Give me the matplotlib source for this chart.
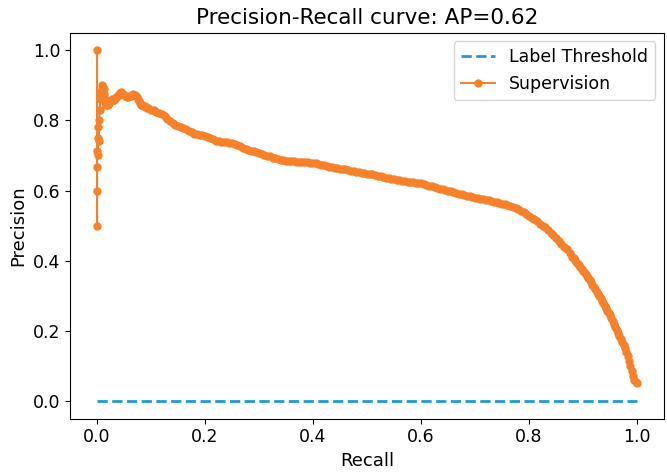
import matplotlib
matplotlib.use("Agg")
import matplotlib.pyplot as plt

# Label threshold baseline
threshold_recall = [0.0, 1.0]
threshold_precision = [0.0, 0.0]

# Supervision precision-recall curve
recall = [
    0.0, 0.0, 0.0, 0.0, 0.0005, 0.001, 0.0015, 0.002, 0.003, 0.004,
    0.005, 0.006, 0.007, 0.008, 0.009, 0.010, 0.011, 0.012, 0.013, 0.014,
    0.015, 0.016, 0.018, 0.020, 0.022, 0.024, 0.026, 0.028, 0.030, 0.032,
    0.034, 0.036, 0.038, 0.040, 0.042, 0.044, 0.046, 0.048, 0.050, 0.052,
    0.054, 0.056, 0.058, 0.060, 0.062, 0.064, 0.066, 0.068, 0.070, 0.072,
    0.074, 0.076, 0.078, 0.080, 0.082, 0.084, 0.086, 0.088, 0.090, 0.092,
    0.095,
    0.100, 0.105, 0.110, 0.115, 0.120, 0.125, 0.130, 0.135, 0.140, 0.145,
    0.150, 0.155, 0.160, 0.165, 0.170, 0.175, 0.180, 0.185, 0.190, 0.195,
    0.200, 0.205, 0.210, 0.215, 0.220, 0.225, 0.230, 0.235, 0.240, 0.245,
    0.250, 0.255, 0.260, 0.265, 0.270, 0.275, 0.280, 0.285, 0.290, 0.295,
    0.300, 0.305, 0.310, 0.315, 0.320, 0.325, 0.330, 0.335, 0.340, 0.345,
    0.350, 0.355, 0.360, 0.365, 0.370, 0.375, 0.380, 0.385, 0.390, 0.395,
    0.400, 0.405, 0.410, 0.415, 0.420, 0.425, 0.430, 0.435, 0.440, 0.445,
    0.450, 0.455, 0.460, 0.465, 0.470, 0.475, 0.480, 0.485, 0.490, 0.495,
    0.500, 0.505, 0.510, 0.515, 0.520, 0.525, 0.530, 0.535, 0.540, 0.545,
    0.550, 0.555, 0.560, 0.565, 0.570, 0.575, 0.580, 0.585, 0.590, 0.595,
    0.600, 0.605, 0.610, 0.615, 0.620, 0.625, 0.630, 0.635, 0.640, 0.645,
    0.650, 0.655, 0.660, 0.665, 0.670, 0.675, 0.680, 0.685, 0.690, 0.695,
    0.700, 0.705, 0.710, 0.715, 0.720, 0.725, 0.730, 0.735, 0.740, 0.745,
    0.750, 0.755, 0.760, 0.765, 0.770, 0.775, 0.780, 0.785, 0.790, 0.795,
    0.800, 0.805, 0.810, 0.815, 0.820, 0.825, 0.830, 0.835, 0.840, 0.845,
    0.850, 0.855, 0.860, 0.865, 0.870, 0.875,
    0.8800, 0.8825, 0.8850, 0.8875, 0.8900, 0.8925, 0.8950, 0.8975,
    0.9000, 0.9025, 0.9050, 0.9075, 0.9100, 0.9125, 0.9150, 0.9175,
    0.9200, 0.9225, 0.9250, 0.9275, 0.9300, 0.9325, 0.9350, 0.9375,
    0.9400, 0.9425, 0.9450, 0.9475, 0.9500, 0.9525, 0.9550, 0.9575,
    0.9600, 0.9625, 0.9650, 0.9675, 0.9700, 0.9725, 0.9750, 0.9775,
    0.9800, 0.9825, 0.9850, 0.9875, 0.9900, 0.9925, 0.9950, 0.9975,
    1.0000,
]
precision = [
    1.0, 0.5, 0.6, 0.667, 0.714, 0.75, 0.70, 0.78, 0.74, 0.80,
    0.83, 0.86, 0.87, 0.88, 0.89, 0.90, 0.895, 0.89, 0.875, 0.86,
    0.85, 0.845, 0.85, 0.845, 0.85, 0.855, 0.855, 0.86, 0.858, 0.858,
    0.862, 0.866, 0.870, 0.874, 0.878, 0.880, 0.879, 0.876, 0.872, 0.870,
    0.868, 0.866, 0.866, 0.868, 0.870, 0.873, 0.874, 0.873, 0.872, 0.869,
    0.866, 0.860, 0.855, 0.850, 0.845, 0.843, 0.842, 0.840, 0.838, 0.836,
    0.834,
    0.830, 0.828, 0.825, 0.822, 0.818, 0.812, 0.805, 0.798, 0.792, 0.788,
    0.785, 0.782, 0.778, 0.774, 0.770, 0.766, 0.762, 0.760, 0.758, 0.757,
    0.755, 0.753, 0.750, 0.746, 0.742, 0.740, 0.738, 0.738, 0.737, 0.736,
    0.735, 0.733, 0.730, 0.726, 0.722, 0.719, 0.716, 0.714, 0.712, 0.709,
    0.706, 0.703, 0.700, 0.698, 0.697, 0.694, 0.692, 0.690, 0.688, 0.686,
    0.685, 0.684, 0.683, 0.683, 0.682, 0.681, 0.680, 0.680, 0.680, 0.679,
    0.678, 0.677, 0.675, 0.673, 0.672, 0.670, 0.668, 0.666, 0.664, 0.663,
    0.662, 0.661, 0.660, 0.658, 0.657, 0.655, 0.654, 0.652, 0.651, 0.649,
    0.648, 0.647, 0.646, 0.644, 0.642, 0.640, 0.638, 0.637, 0.636, 0.634,
    0.633, 0.631, 0.630, 0.628, 0.626, 0.625, 0.624, 0.623, 0.622, 0.621,
    0.620, 0.619, 0.617, 0.614, 0.612, 0.610, 0.608, 0.605, 0.603, 0.601,
    0.600, 0.598, 0.596, 0.593, 0.591, 0.589, 0.587, 0.585, 0.584, 0.582,
    0.580, 0.578, 0.577, 0.575, 0.574, 0.572, 0.570, 0.568, 0.566, 0.565,
    0.563, 0.561, 0.559, 0.556, 0.553, 0.550, 0.546, 0.542, 0.538, 0.533,
    0.528, 0.523, 0.518, 0.512, 0.506, 0.500, 0.495, 0.488, 0.480, 0.472,
    0.465, 0.457, 0.448, 0.440, 0.432, 0.422,
    0.412, 0.407, 0.402, 0.397, 0.392, 0.387, 0.382, 0.377,
    0.372, 0.367, 0.361, 0.356, 0.350, 0.344, 0.338, 0.331,
    0.325, 0.319, 0.312, 0.306, 0.300, 0.293, 0.286, 0.279,
    0.272, 0.265, 0.258, 0.252, 0.245, 0.236, 0.228, 0.219,
    0.210, 0.202, 0.194, 0.186, 0.178, 0.169, 0.160, 0.150,
    0.140, 0.128, 0.115, 0.100, 0.085, 0.072, 0.060, 0.055,
    0.052,
]

fig = plt.figure(figsize=(6.67, 4.72), dpi=100)
ax = fig.add_axes([0.105, 0.113, 0.8905, 0.818])

ax.plot(threshold_recall, threshold_precision, linestyle="--", color="#1f9bd0",
        linewidth=2, label="Label Threshold")
ax.plot(recall, precision, marker=".", markersize=10, linewidth=1.5,
        color="#f5822a", label="Supervision")

ax.set_xlim(-0.05, 1.05)
ax.set_ylim(-0.05, 1.05)
ax.set_xticks([0.0, 0.2, 0.4, 0.6, 0.8, 1.0])
ax.set_yticks([0.0, 0.2, 0.4, 0.6, 0.8, 1.0])
ax.set_xlabel("Recall", fontsize=13)
ax.set_ylabel("Precision", fontsize=13)
ax.set_title("Precision-Recall curve: AP=0.62", fontsize=15.5)
ax.tick_params(labelsize=12.5)
ax.legend(loc="upper right", fontsize=12.5)

fig.savefig("out.png", dpi=100)
